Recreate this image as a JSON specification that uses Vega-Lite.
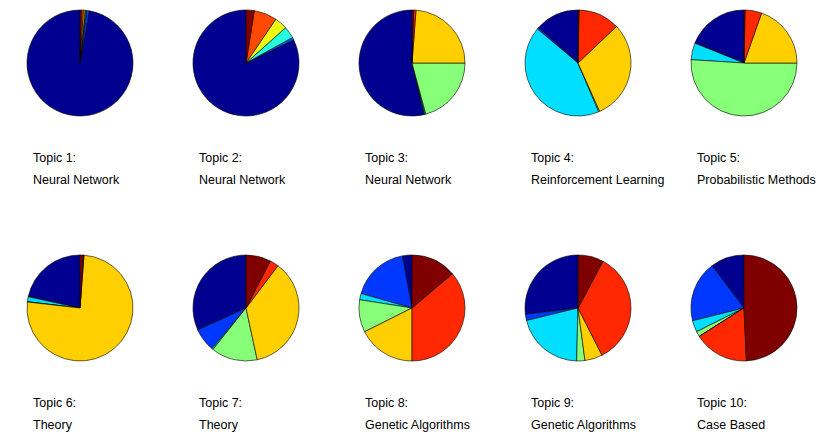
{
  "$schema": "https://vega.github.io/schema/vega-lite/v6.json",
  "padding": {"left": 25, "top": 0, "right": 0, "bottom": 0},
  "background": "white",
  "bounds": "flush",
  "data": {"values": [
    {"topic": 1, "label": "Topic 1:|Neural Network", "cat": 1, "value": 97.2},
    {"topic": 1, "label": "Topic 1:|Neural Network", "cat": 2, "value": 0.8},
    {"topic": 1, "label": "Topic 1:|Neural Network", "cat": 3, "value": 0.3},
    {"topic": 1, "label": "Topic 1:|Neural Network", "cat": 4, "value": 0.2},
    {"topic": 1, "label": "Topic 1:|Neural Network", "cat": 5, "value": 0.5},
    {"topic": 1, "label": "Topic 1:|Neural Network", "cat": 6, "value": 0.6},
    {"topic": 1, "label": "Topic 1:|Neural Network", "cat": 7, "value": 0.4},
    {"topic": 2, "label": "Topic 2:|Neural Network", "cat": 1, "value": 82.2},
    {"topic": 2, "label": "Topic 2:|Neural Network", "cat": 2, "value": 0.8},
    {"topic": 2, "label": "Topic 2:|Neural Network", "cat": 3, "value": 3.6},
    {"topic": 2, "label": "Topic 2:|Neural Network", "cat": 5, "value": 3.9},
    {"topic": 2, "label": "Topic 2:|Neural Network", "cat": 6, "value": 7.0},
    {"topic": 2, "label": "Topic 2:|Neural Network", "cat": 7, "value": 2.5},
    {"topic": 3, "label": "Topic 3:|Neural Network", "cat": 1, "value": 53.6},
    {"topic": 3, "label": "Topic 3:|Neural Network", "cat": 2, "value": 0.3},
    {"topic": 3, "label": "Topic 3:|Neural Network", "cat": 3, "value": 0.3},
    {"topic": 3, "label": "Topic 3:|Neural Network", "cat": 4, "value": 20.8},
    {"topic": 3, "label": "Topic 3:|Neural Network", "cat": 5, "value": 23.8},
    {"topic": 3, "label": "Topic 3:|Neural Network", "cat": 6, "value": 0.7},
    {"topic": 3, "label": "Topic 3:|Neural Network", "cat": 7, "value": 0.5},
    {"topic": 4, "label": "Topic 4:|Reinforcement Learning", "cat": 1, "value": 13.4},
    {"topic": 4, "label": "Topic 4:|Reinforcement Learning", "cat": 2, "value": 0.5},
    {"topic": 4, "label": "Topic 4:|Reinforcement Learning", "cat": 3, "value": 42.5},
    {"topic": 4, "label": "Topic 4:|Reinforcement Learning", "cat": 4, "value": 0.3},
    {"topic": 4, "label": "Topic 4:|Reinforcement Learning", "cat": 5, "value": 30.4},
    {"topic": 4, "label": "Topic 4:|Reinforcement Learning", "cat": 6, "value": 12.6},
    {"topic": 4, "label": "Topic 4:|Reinforcement Learning", "cat": 7, "value": 0.3},
    {"topic": 5, "label": "Topic 5:|Probabilistic Methods", "cat": 1, "value": 18.8},
    {"topic": 5, "label": "Topic 5:|Probabilistic Methods", "cat": 2, "value": 0.1},
    {"topic": 5, "label": "Topic 5:|Probabilistic Methods", "cat": 3, "value": 5.1},
    {"topic": 5, "label": "Topic 5:|Probabilistic Methods", "cat": 4, "value": 51.0},
    {"topic": 5, "label": "Topic 5:|Probabilistic Methods", "cat": 5, "value": 19.6},
    {"topic": 5, "label": "Topic 5:|Probabilistic Methods", "cat": 6, "value": 5.1},
    {"topic": 5, "label": "Topic 5:|Probabilistic Methods", "cat": 7, "value": 0.3},
    {"topic": 6, "label": "Topic 6:|Theory", "cat": 1, "value": 21.5},
    {"topic": 6, "label": "Topic 6:|Theory", "cat": 2, "value": 0.1},
    {"topic": 6, "label": "Topic 6:|Theory", "cat": 3, "value": 1.5},
    {"topic": 6, "label": "Topic 6:|Theory", "cat": 4, "value": 0.1},
    {"topic": 6, "label": "Topic 6:|Theory", "cat": 5, "value": 75.6},
    {"topic": 6, "label": "Topic 6:|Theory", "cat": 6, "value": 0.2},
    {"topic": 6, "label": "Topic 6:|Theory", "cat": 7, "value": 1.0},
    {"topic": 7, "label": "Topic 7:|Theory", "cat": 1, "value": 31.8},
    {"topic": 7, "label": "Topic 7:|Theory", "cat": 2, "value": 7.1},
    {"topic": 7, "label": "Topic 7:|Theory", "cat": 3, "value": 0.4},
    {"topic": 7, "label": "Topic 7:|Theory", "cat": 4, "value": 14.1},
    {"topic": 7, "label": "Topic 7:|Theory", "cat": 5, "value": 36.3},
    {"topic": 7, "label": "Topic 7:|Theory", "cat": 6, "value": 2.7},
    {"topic": 7, "label": "Topic 7:|Theory", "cat": 7, "value": 7.6},
    {"topic": 8, "label": "Topic 8:|Genetic Algorithms", "cat": 1, "value": 2.9},
    {"topic": 8, "label": "Topic 8:|Genetic Algorithms", "cat": 2, "value": 17.7},
    {"topic": 8, "label": "Topic 8:|Genetic Algorithms", "cat": 3, "value": 1.9},
    {"topic": 8, "label": "Topic 8:|Genetic Algorithms", "cat": 4, "value": 9.9},
    {"topic": 8, "label": "Topic 8:|Genetic Algorithms", "cat": 5, "value": 17.6},
    {"topic": 8, "label": "Topic 8:|Genetic Algorithms", "cat": 6, "value": 36.2},
    {"topic": 8, "label": "Topic 8:|Genetic Algorithms", "cat": 7, "value": 13.8},
    {"topic": 9, "label": "Topic 9:|Genetic Algorithms", "cat": 1, "value": 26.9},
    {"topic": 9, "label": "Topic 9:|Genetic Algorithms", "cat": 2, "value": 1.9},
    {"topic": 9, "label": "Topic 9:|Genetic Algorithms", "cat": 3, "value": 20.8},
    {"topic": 9, "label": "Topic 9:|Genetic Algorithms", "cat": 4, "value": 2.5},
    {"topic": 9, "label": "Topic 9:|Genetic Algorithms", "cat": 5, "value": 5.4},
    {"topic": 9, "label": "Topic 9:|Genetic Algorithms", "cat": 6, "value": 34.7},
    {"topic": 9, "label": "Topic 9:|Genetic Algorithms", "cat": 7, "value": 7.8},
    {"topic": 10, "label": "Topic 10:|Case Based", "cat": 1, "value": 10.3},
    {"topic": 10, "label": "Topic 10:|Case Based", "cat": 2, "value": 18.6},
    {"topic": 10, "label": "Topic 10:|Case Based", "cat": 3, "value": 3.5},
    {"topic": 10, "label": "Topic 10:|Case Based", "cat": 4, "value": 1.6},
    {"topic": 10, "label": "Topic 10:|Case Based", "cat": 5, "value": 0.05},
    {"topic": 10, "label": "Topic 10:|Case Based", "cat": 6, "value": 16.7},
    {"topic": 10, "label": "Topic 10:|Case Based", "cat": 7, "value": 49.3}
  ]},
  "transform": [
    {"joinaggregate": [{"op": "count", "as": "n"}], "groupby": ["topic"]},
    {"window": [{"op": "rank", "as": "k"}], "groupby": ["topic"], "sort": [{"field": "cat", "order": "ascending"}]},
    {"calculate": "(datum.k - 1) / (datum.n - 1)", "as": "t"}
  ],
  "facet": {
    "field": "label",
    "type": "nominal",
    "title": null,
    "sort": ["Topic 1:|Neural Network", "Topic 2:|Neural Network", "Topic 3:|Neural Network", "Topic 4:|Reinforcement Learning", "Topic 5:|Probabilistic Methods", "Topic 6:|Theory", "Topic 7:|Theory", "Topic 8:|Genetic Algorithms", "Topic 9:|Genetic Algorithms", "Topic 10:|Case Based"],
    "header": {
      "labelOrient": "bottom",
      "labelAnchor": "start",
      "labelAlign": "left",
      "labelBaseline": "top",
      "labelExpr": "split(datum.value, '|')",
      "labelLineHeight": 22,
      "labelFontSize": 12.5,
      "labelFont": "Liberation Sans",
      "labelColor": "black",
      "labelPadding": 26,
      "labelLimit": 0
    }
  },
  "columns": 5,
  "spacing": {"row": 119, "column": 72},
  "spec": {
    "width": 94,
    "height": 126,
    "mark": {"type": "arc", "outerRadius": 53, "stroke": "black", "strokeWidth": 0.6},
    "encoding": {
      "theta": {"field": "value", "type": "quantitative", "stack": true},
      "order": {"field": "cat", "type": "quantitative", "sort": "descending"},
      "color": {
        "field": "t",
        "type": "quantitative",
        "legend": null,
        "scale": {
          "domain": [0, 0.1111, 0.3651, 0.619, 0.873, 1],
          "range": ["#000090", "#0000ff", "#00ffff", "#ffff00", "#ff0000", "#800000"],
          "interpolate": "rgb"
        }
      }
    }
  },
  "config": {"view": {"stroke": null}}
}
